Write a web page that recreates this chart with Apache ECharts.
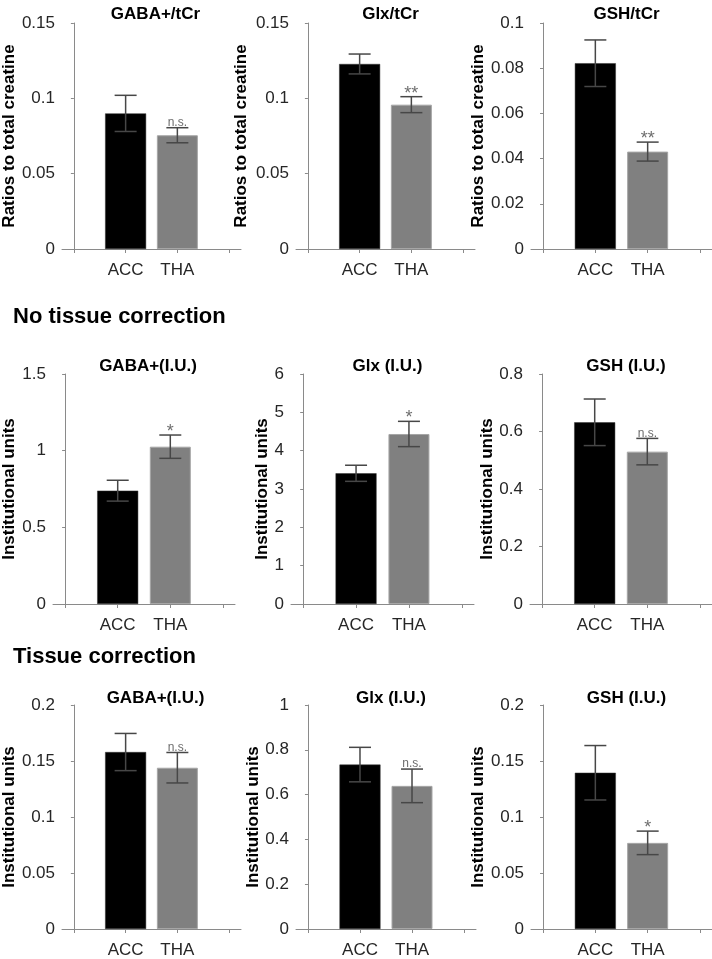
<!DOCTYPE html>
<html>
<head>
<meta charset="utf-8">
<script src="https://cdn.jsdelivr.net/npm/echarts@6/dist/echarts.min.js"></script>
<style>
  html, body { margin: 0; padding: 0; background: #fff; }
  #main { width: 712px; height: 959px; }
</style>
</head>
<body>
<div id="main"></div>
<script>
// data (mean and error, ACC vs THA)
var categories = ['ACC', 'THA']
var panelTitles = ['GABA+/tCr', 'Glx/tCr', 'GSH/tCr',
    'GABA+(I.U.)', 'Glx (I.U.)', 'GSH (I.U.)',
    'GABA+(I.U.)', 'Glx (I.U.)', 'GSH (I.U.)']
var yNames = ['Ratios to total creatine', 'Ratios to total creatine', 'Ratios to total creatine',
    'Institutional units', 'Institutional units', 'Institutional units',
    'Institutional units', 'Institutional units', 'Institutional units']
var accMean = [0.090, 0.1228, 0.0822, 0.739, 3.41, 0.632, 0.158, 0.734, 0.1395]
var accErr = [0.012, 0.0066, 0.0103, 0.068, 0.21, 0.081, 0.0166, 0.077, 0.0243]
var thaMean = [0.0755, 0.0958, 0.0431, 1.026, 4.435, 0.530, 0.144, 0.639, 0.0769]
var thaErr = [0.005, 0.0053, 0.0042, 0.076, 0.33, 0.046, 0.0136, 0.075, 0.0105]
var significance = ['n.s.', '**', '**', '*', '*', 'n.s.', 'n.s.', 'n.s.', '*']
var yMax = [0.15, 0.15, 0.1, 1.5, 6, 0.8, 0.2, 1, 0.2]
var yStep = [0.05, 0.05, 0.02, 0.5, 1, 0.2, 0.05, 0.2, 0.05]
var xTicks = [0, 1, 2, 3]
var sections = ['No tissue correction', 'Tissue correction']

// layout of the 3x3 panels (pixels)
var rowTop = [23, 374, 705]
var rowHeight = [226, 230, 229]
var colBox = [
    [[60, 181], [296, 179], [531, 181]],
    [[51, 184], [291, 183], [530, 182]],
    [[60, 181], [296, 180], [531, 181]]
]
var nameGaps = [41, 46, 42, 35, 19, 34, 39, 31, 43]
var titleTop = [1, 353, 685]
var sectionTop = [306, 646]

var font = 'Liberation Sans, Arial, Helvetica, sans-serif'
var axisGrey = '#8a8a8a'
var textColor = '#262626'
var barColors = ['#000000', '#808080']

var chart = echarts.init(document.getElementById('main'))

var grids = [], xAxes = [], yAxes = [], series = [], titles = []

for (var i = 0; i < 9; i++) {
    var r = Math.floor(i / 3), c = i % 3
    var box = colBox[r][c]
    grids.push({ left: box[0], top: rowTop[r], width: box[1], height: rowHeight[r], containLabel: false })
    titles.push({
        text: panelTitles[i],
        left: box[0] + box[1] / 2,
        top: titleTop[r],
        textAlign: 'center',
        textStyle: { fontFamily: font, fontSize: 17, fontWeight: 'bold', color: '#000' }
    })
    xAxes.push({
        type: 'value', gridIndex: i, min: -0.23, max: 3.23,
        splitLine: { show: false },
        axisLine: { show: true, onZero: false, lineStyle: { color: axisGrey, width: 1 } },
        axisTick: { show: true, customValues: xTicks, length: 4, inside: false, lineStyle: { color: axisGrey } },
        axisLabel: {
            customValues: [1, 2], margin: 13,
            fontFamily: font, fontSize: 17, color: textColor,
            formatter: function (v) { return categories[Math.round(v) - 1] || '' }
        }
    })
    yAxes.push({
        type: 'value', gridIndex: i, min: 0, max: yMax[i], interval: yStep[i],
        name: yNames[i], nameLocation: 'middle', nameGap: nameGaps[i],
        nameTextStyle: { fontFamily: font, fontSize: 17, fontWeight: 'bold', color: '#000' },
        splitLine: { show: false },
        axisLine: { show: true, lineStyle: { color: axisGrey, width: 1 } },
        axisTick: { show: true, length: 3, lineStyle: { color: axisGrey } },
        axisLabel: { margin: 7, fontFamily: font, fontSize: 17, color: textColor }
    })
    series.push({
        type: 'bar', xAxisIndex: i, yAxisIndex: i, barWidth: 41,
        data: [
            { value: [1, accMean[i]], itemStyle: { color: barColors[0], borderColor: '#333', borderWidth: 0.5 } },
            { value: [2, thaMean[i]], itemStyle: { color: barColors[1], borderColor: '#a6a6a6', borderWidth: 1 } }
        ],
        silent: true
    })
    series.push({
        type: 'custom', xAxisIndex: i, yAxisIndex: i, silent: true, z: 5,
        data: [[1, accMean[i], accErr[i], ''], [2, thaMean[i], thaErr[i], significance[i]]],
        renderItem: function (params, api) {
            var x = api.value(0), m = api.value(1), e = api.value(2)
            var hi = api.coord([x, m + e])
            var lo = api.coord([x, m - e])
            var cap = 11
            var style = { stroke: '#474747', lineWidth: 1.5 }
            var kids = [
                { type: 'line', shape: { x1: hi[0], y1: hi[1], x2: lo[0], y2: lo[1] }, style: style },
                { type: 'line', shape: { x1: hi[0] - cap, y1: hi[1], x2: hi[0] + cap, y2: hi[1] }, style: style },
                { type: 'line', shape: { x1: lo[0] - cap, y1: lo[1], x2: lo[0] + cap, y2: lo[1] }, style: style }
            ]
            var sig = api.value(3)
            if (sig) {
                var star = sig.indexOf('*') >= 0
                kids.push({
                    type: 'text',
                    style: {
                        text: sig, x: hi[0], y: star ? hi[1] + 6 : hi[1] + 1,
                        align: 'center', verticalAlign: 'bottom',
                        font: (star ? '18px ' : '12px ') + font, fill: '#6e6e6e'
                    }
                })
            }
            return { type: 'group', children: kids }
        }
    })
}

chart.setOption({
    backgroundColor: '#fff',
    animation: false,
    title: titles,
    grid: grids,
    xAxis: xAxes,
    yAxis: yAxes,
    series: series,
    graphic: sections.map(function (s, k) {
        return {
            type: 'text', left: 13, top: sectionTop[k],
            style: { text: s, font: 'bold 22px ' + font, fill: '#000' }
        }
    })
})
</script>
</body>
</html>
